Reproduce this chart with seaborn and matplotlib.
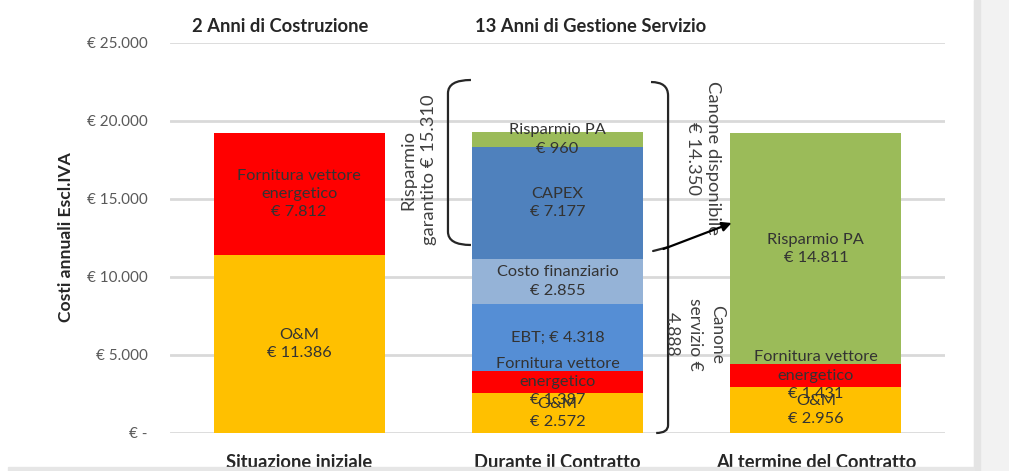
import matplotlib
matplotlib.use("Agg")
import matplotlib.pyplot as plt
import seaborn as sns
import pandas as pd
import numpy as np
from matplotlib.patches import Rectangle, PathPatch
from matplotlib.path import Path

# ---------------- data ----------------
categories = ["Situazione iniziale", "Durante il Contratto", "Al termine del Contratto"]
om = [11386, 2572, 2956]
fornitura = [7812, 1387, 1431]
ebt = [0, 4318, 0]
costo_fin = [0, 2855, 0]
capex = [0, 7177, 0]
risparmio = [0, 960, 14811]
yticks = [0, 5000, 10000, 15000, 20000, 25000]
ytick_labels = ["€ -", "€ 5.000", "€ 10.000", "€ 15.000", "€ 20.000", "€ 25.000"]
phases = ["2 Anni di Costruzione", "13 Anni di Gestione Servizio"]
risparmio_garantito = 15310
canone_disponibile = 14350
canone_servizio = 4888
ylabel = "Costi annuali Escl.IVA"

sns.set_theme(style="white")
FONT = ["Lato", "DejaVu Sans"]
plt.rcParams["font.family"] = FONT

def eur(v):
    return "€ " + f"{v:,}".replace(",", ".")

layers = [
    ("O&M", om, "#FFC000", lambda v: "O&M\n" + eur(v)),
    ("Fornitura", fornitura, "#FF0000", lambda v: "Fornitura vettore\nenergetico\n" + eur(v)),
    ("EBT", ebt, "#558ED5", lambda v: "EBT; " + eur(v)),
    ("Costo", costo_fin, "#95B3D7", lambda v: "Costo finanziario\n" + eur(v)),
    ("CAPEX", capex, "#4F81BD", lambda v: "CAPEX\n" + eur(v)),
    ("Risparmio", risparmio, "#9BBB59", lambda v: "Risparmio PA\n" + eur(v)),
]

W, H = 1009, 471
fig = plt.figure(figsize=(W / 100, H / 100), dpi=100)
fig.patch.set_facecolor("white")
# frame decorations
fig.patches.append(Rectangle((974 / W, 0), 35 / W, 1, transform=fig.transFigure, color="#F2F2F2", zorder=0))
fig.patches.append(Rectangle((974 / W, 0), 6 / W, 1, transform=fig.transFigure, color="#E4E4E4", zorder=0))
fig.patches.append(Rectangle((8 / W, 0), 966 / W, 4 / H, transform=fig.transFigure, color="#E6E6E6", zorder=0))

ax = fig.add_axes([170 / W, 1 - 433 / H, 775 / W, 390.5 / H])
ax.set_facecolor("none")

cum = np.cumsum(np.array([l[1] for l in layers]), axis=0)
bw = 0.663
for i in range(len(layers) - 1, -1, -1):
    df = pd.DataFrame({"cat": categories, "val": cum[i]})
    sns.barplot(data=df, x="cat", y="val", color=layers[i][2], saturation=1,
                width=bw, ax=ax, linewidth=0, zorder=2)

# segment labels
bottoms = np.vstack([np.zeros(3), cum[:-1]])
for i, (name, vals, col, fmt) in enumerate(layers):
    for j, v in enumerate(vals):
        if v <= 0:
            continue
        yc = bottoms[i][j] + v / 2
        ax.text(j, yc, fmt(v), ha="center", va="center", multialignment="center",
                fontsize=11.8, color="#333333", linespacing=1.38, zorder=5)

ax.set_xlim(-0.5, 2.5)
ax.set_ylim(0, 25000)
ax.set_yticks(yticks)
ax.set_yticklabels(ytick_labels, color="#595959", fontsize=11)
ax.tick_params(axis="y", length=0, pad=16)
ax.tick_params(axis="x", length=0, pad=15)
ax.set_xticks(range(len(categories)))
ax.set_xticklabels(categories, fontsize=13.2, fontweight="bold", color="#262626")
ax.set_xlabel("")
ax.set_ylabel(ylabel, fontsize=12.6, fontweight="bold", color="#262626")
ax.yaxis.set_label_coords(-0.124, 0.502)
ax.yaxis.grid(True, color="#D9D9D9", linewidth=2)
ax.set_axisbelow(True)
for s in ax.spines.values():
    s.set_visible(False)

# phase headers
fig.text(280 / W, 1 - 27 / H, phases[0], ha="center", va="center", fontsize=13.2,
         fontweight="bold", color="#262626")
fig.text(591 / W, 1 - 27 / H, phases[1], ha="center", va="center", fontsize=13.2,
         fontweight="bold", color="#262626")

# braces
lc = "#262626"
xl, xh = 0.576, 0.665
yt, yb = 22600, 12036
left = Path([(xh, yt), (xl, yt), (xl, yt - 850), (xl, yb + 850), (xl, yb), (xh, yb)],
            [Path.MOVETO, Path.CURVE3, Path.CURVE3, Path.LINETO, Path.CURVE3, Path.CURVE3])
ax.add_patch(PathPatch(left, fill=False, lw=1.6, color=lc, clip_on=False, zorder=6))

xr = 1.428
ymid = 11900
right = Path([(1.362, 22470), (xr, 22470), (xr, 21600), (xr, 500), (xr, 0), (1.382, 0)],
             [Path.MOVETO, Path.CURVE3, Path.CURVE3, Path.LINETO, Path.CURVE3, Path.CURVE3])
ax.add_patch(PathPatch(right, fill=False, lw=1.6, color=lc, clip_on=False, zorder=6))
ax.plot([1.37, xr], [11650, ymid], color=lc, lw=1.6, clip_on=False, zorder=6)
ax.annotate("", xy=(1.684, 13508), xytext=(1.40, 11716),
            arrowprops=dict(arrowstyle="-|>", color="black", lw=1.6, mutation_scale=14),
            zorder=7, annotation_clip=False)

ax.text(0.463, 16838, "Risparmio\ngarantito " + eur(risparmio_garantito), rotation=90,
        ha="center", va="center", multialignment="center", fontsize=13.2, color="#404040",
        linespacing=1.3, zorder=6)
ax.text(1.564, 17600, "Canone disponibile\n" + eur(canone_disponibile), rotation=-90,
        ha="center", va="center", multialignment="center", fontsize=13.2, color="#404040",
        linespacing=1.3, zorder=6)
ax.text(1.531, 6338, "Canone\nservizio €\n" + f"{canone_servizio:,}".replace(",", "."),
        rotation=-90, ha="center", va="center", multialignment="center", fontsize=12.5,
        color="#404040", linespacing=1.5, zorder=6)

fig.savefig("out.png", dpi=100, facecolor=fig.get_facecolor())
